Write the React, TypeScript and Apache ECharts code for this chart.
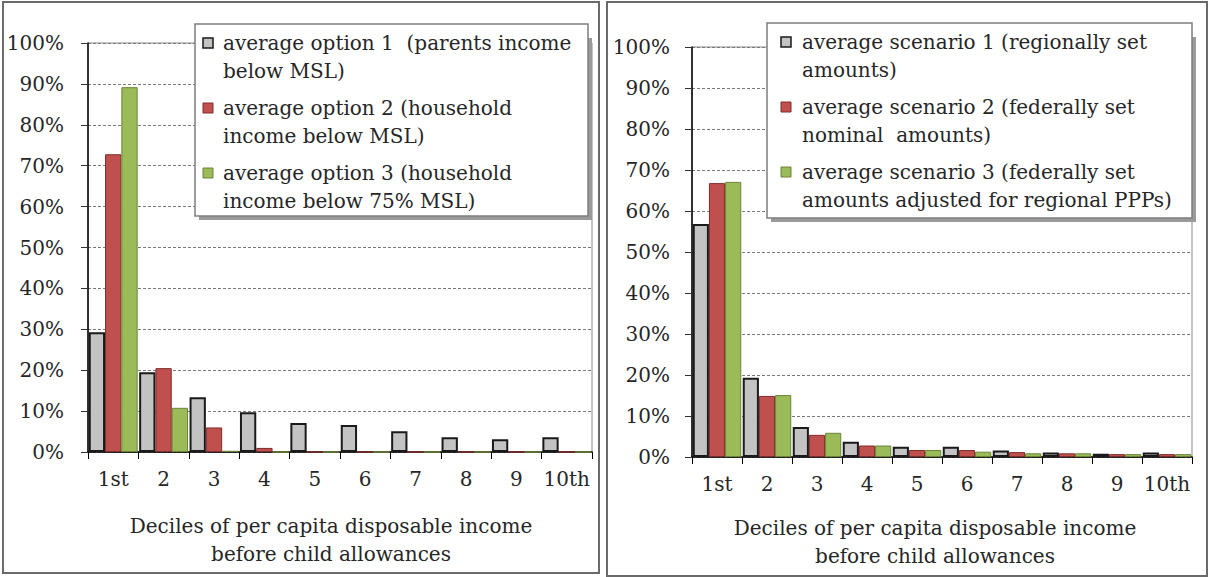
import React, { useEffect, useRef } from "react";
import * as echarts from "echarts";

const deciles = ["1st", "2", "3", "4", "5", "6", "7", "8", "9", "10th"];

const option1 = [29.3, 19.5, 13.4, 9.7, 7.1, 6.6, 5.1, 3.6, 3.1, 3.6];
const option2 = [72.8, 20.5, 6.0, 1.0, 0, 0, 0, 0, 0, 0];
const option3 = [89.2, 10.8, 0.3, 0, 0, 0, 0, 0, 0, 0];

const scenario1 = [56.8, 19.3, 7.3, 3.7, 2.5, 2.5, 1.6, 1.1, 0.8, 1.1];
const scenario2 = [66.8, 14.9, 5.4, 2.8, 1.7, 1.7, 1.2, 0.9, 0.7, 0.7];
const scenario3 = [67.1, 15.1, 5.9, 2.8, 1.7, 1.3, 0.9, 0.9, 0.7, 0.7];

const leftLegend = [
  ["average option 1  (parents income", "below MSL)"],
  ["average option 2 (household", "income below MSL)"],
  ["average option 3 (household", "income below 75% MSL)"],
];
const rightLegend = [
  ["average scenario 1 (regionally set", "amounts)"],
  ["average scenario 2 (federally set", "nominal  amounts)"],
  ["average scenario 3 (federally set", "amounts adjusted for regional PPPs)"],
];

const xTitle = "Deciles of per capita disposable income\nbefore child allowances";

const FONT = "DejaVu Serif";
const TXT = "#262626";
const FS = 20;

const fills = ["#C3C3C3", "#C0504D", "#9BBB59"];
const borders = ["#1a1a1a", "#7f2d2b", "#6a8436"];
const borderW = [2, 1, 1];

export default function App() {
  const ref = useRef<HTMLDivElement>(null);

  useEffect(() => {
    if (!ref.current) return;
    const chart = echarts.init(ref.current, null, { renderer: "svg" });

    const mkX = (gi: number, gap: number, shift: number) => ({
      type: "category",
      gridIndex: gi,
      data: deciles,
      axisLine: { lineStyle: { color: "#000", width: 1.5 } },
      axisTick: { show: true, alignWithLabel: false, interval: 0, length: 7, lineStyle: { color: "#000" } },
      axisLabel: { color: TXT, fontFamily: FONT, fontSize: FS, margin: 17, interval: 0 },
      name: xTitle,
      nameLocation: "middle",
      nameGap: gap,
      nameTextStyle: { color: TXT, fontFamily: FONT, fontSize: FS, lineHeight: 28, padding: [0, shift, 0, 0] },
    });
    const mkY = (gi: number, margin: number) => ({
      type: "value",
      gridIndex: gi,
      min: 0,
      max: 100,
      interval: 10,
      axisLine: { show: true, lineStyle: { color: "#000", width: 1.5 } },
      axisTick: { show: true, length: 7, lineStyle: { color: "#333" } },
      axisLabel: {
        color: TXT,
        fontFamily: FONT,
        fontSize: FS,
        margin,
        formatter: (v: number) => `${v}%`,
      },
      splitLine: { show: true, lineStyle: { color: "#7a7a7a", type: [3, 2], width: 1 } },
    });

    const mkSeries = (name: string, data: number[], i: number, axis: number) => ({
      type: "bar",
      name,
      xAxisIndex: axis,
      yAxisIndex: axis,
      data,
      barGap: "0%",
      barCategoryGap: "3%",
      itemStyle: { color: fills[i], borderColor: borders[i], borderWidth: borderW[i] },
    });

    const legendGraphic = (
      items: string[][],
      box: { x: number; y: number; w: number; h: number },
      iconX: number,
      textX: number,
      lines: number[]
    ) => {
      const children: any[] = [
        { type: "rect", z: 50, shape: { x: box.x + 4, y: box.y + 14, width: box.w, height: box.h - 10 }, style: { fill: "#9a9a9a" } },
        { type: "rect", z: 51, shape: { x: box.x, y: box.y, width: box.w, height: box.h }, style: { fill: "#fff", stroke: "#7d7d7d", lineWidth: 1.5 } },
      ];
      items.forEach((lns, i) => {
        const cy = lines[i];
        children.push({
          type: "rect",
          z: 52,
          shape: { x: iconX, y: cy - 5, width: 10, height: 10 },
          style: { fill: fills[i], stroke: borders[i], lineWidth: i === 0 ? 1.5 : 1 },
        });
        children.push({
          type: "text",
          z: 52,
          x: textX,
          y: cy - 14.5,
          style: {
            text: lns.join("\n"),
            fill: TXT,
            fontFamily: FONT,
            fontSize: FS,
            lineHeight: 28.5,
            verticalAlign: "top",
            align: "left",
          },
        });
      });
      return { type: "group", z: 50, children };
    };

    chart.setOption({
      animation: false,
      backgroundColor: "#fff",
      textStyle: { fontFamily: FONT },
      grid: [
        { left: 88, top: 43, width: 504, height: 409, show: true, borderColor: "#8a8a8a", borderWidth: 1, backgroundColor: "transparent" },
        { left: 692, top: 47, width: 500, height: 410, show: true, borderColor: "#8a8a8a", borderWidth: 1, backgroundColor: "transparent" },
      ],
      xAxis: [mkX(0, 60, 18), mkX(1, 57, 14)],
      yAxis: [mkY(0, 24), mkY(1, 22)],
      series: [
        mkSeries(leftLegend[0].join(" "), option1, 0, 0),
        mkSeries(leftLegend[1].join(" "), option2, 1, 0),
        mkSeries(leftLegend[2].join(" "), option3, 2, 0),
        mkSeries(rightLegend[0].join(" "), scenario1, 0, 1),
        mkSeries(rightLegend[1].join(" "), scenario2, 1, 1),
        mkSeries(rightLegend[2].join(" "), scenario3, 2, 1),
      ],
      graphic: [
        { type: "rect", z: 60, shape: { x: 3, y: 2, width: 596, height: 571 }, style: { fill: "none", stroke: "#6a6a6a", lineWidth: 2 } },
        { type: "rect", z: 60, shape: { x: 607, y: 2, width: 600, height: 574 }, style: { fill: "none", stroke: "#6a6a6a", lineWidth: 2 } },
        legendGraphic(leftLegend, { x: 195, y: 24, w: 393, h: 192 }, 203, 223, [43, 108, 173]),
        legendGraphic(rightLegend, { x: 767, y: 23, w: 425, h: 195 }, 781, 802, [42, 107, 172]),
      ],
    });

    return () => chart.dispose();
  }, []);

  return (
    <div
      ref={ref}
      style={{ position: "fixed", left: 0, top: 0, width: 1212, height: 577, background: "#fff" }}
    />
  );
}
